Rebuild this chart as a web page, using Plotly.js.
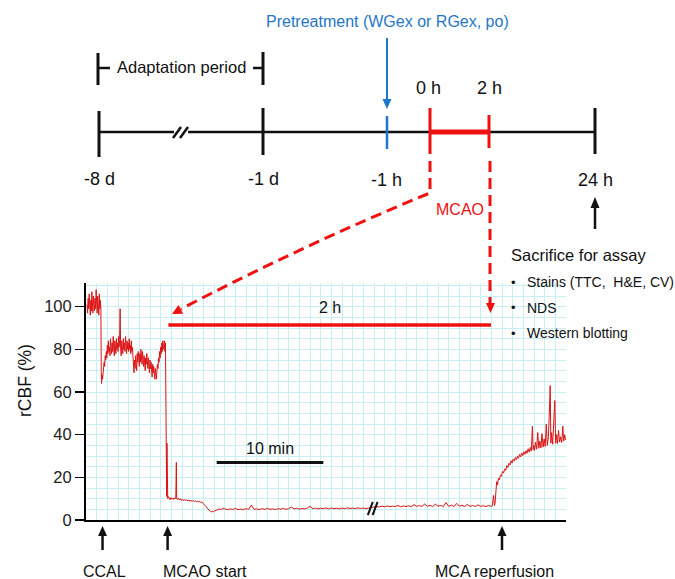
<!DOCTYPE html>
<html><head><meta charset="utf-8">
<script src="https://cdn.plot.ly/plotly-3.0.1.min.js"></script>
<style>html,body{margin:0;padding:0;background:#fff}</style>
</head><body><div id="chart" style="width:675px;height:579px"></div>
<script>
// ---------- DATA (rCBF %, time in display-minutes from trace start) ----------
const baselineTime = [0.10,0.15,0.20,0.25,0.30,0.35,0.40,0.45,0.50,0.55,0.60,0.65,0.70,0.75,0.80,0.85,0.90,0.95,1.00,1.05,1.10,1.15,1.20,1.25,1.30,1.35];
const baselineCBF  = [101,97,104,99,106,100,96,103,98,107,101,97,105,100,98,104,99,108,102,97,105,100,96,106,99,103];

const ccalTime = [1.40,1.43,1.46,1.50,1.55,1.60,1.65,1.70,1.75,1.80,1.85,1.90,1.95,2.00,2.05,2.10,2.15,2.20,2.25,2.30,
  2.35,2.40,2.45,2.50,2.55,2.60,2.65,2.70,2.75,2.80,2.85,2.90,2.95,3.00,3.05,3.10,3.15,3.20,3.25,3.30,
  3.35,3.40,3.45,3.50,3.55,3.60,3.65,3.70,3.75,3.80,3.85,3.90,3.95,4.00,4.05,4.10,4.15,4.20,4.25,4.30,
  4.35,4.40,4.45,4.50,4.55,4.60,4.65,4.70,4.75,4.80,4.85,4.90,4.95,5.00,5.05,5.10,5.15,5.20,5.25,5.30,
  5.35,5.40,5.45,5.50,5.55,5.60,5.65,5.70,5.75,5.80,5.85,5.90,5.95,6.00,6.05,6.10,6.15,6.20,6.25,6.30,
  6.35,6.40,6.45,6.50,6.55,6.60,6.65,6.70,6.75,6.80,6.85,6.90,6.95,7.00,7.05,7.10,7.15,7.20,7.25,7.30,
  7.35,7.40,7.45];
const ccalCBF = [98,70,64,68,66,71,69,74,72,77,75,79,76,82,78,84,79,81,77,85,
  80,78,83,79,86,80,77,84,81,78,85,80,83,79,86,81,84,99,80,77,
  84,81,78,85,80,83,79,86,81,78,84,80,83,79,85,80,82,78,84,79,
  81,77,72,69,75,71,77,73,70,78,74,79,75,72,78,74,80,76,73,79,
  75,72,77,74,70,76,73,78,74,71,76,72,69,75,71,74,70,67,73,69,
  72,68,66,71,68,66,70,73,71,76,74,79,76,81,78,83,79,84,81,80,
  84,79,83];

const occlusionTime = [7.50,7.53,7.56,7.59,7.62,7.66,7.72,7.80,7.88,7.95,8.02,8.10,8.18,8.26,8.34,8.42,8.47,8.50,8.58,8.66,
  8.75,8.85,8.95,9.05,9.15,9.25,9.35,9.45,9.55,9.65,9.75,9.85,9.95,10.05,10.15,10.25,10.35,10.45,10.55,10.65,
  10.75,10.85,10.95,11.05,11.15,11.25,11.35,11.45,11.55,11.65,11.75,11.85,11.95,12.05,12.20,12.35,12.50,12.65,12.80,
  13.00,13.25,13.50,13.75,14.00,14.25,14.50,14.75,15.00,15.25,
  15.50,15.75,16.00,16.25,16.50,16.75,17.00,17.25,17.50,17.75,
  18.00,18.25,18.50,18.75,19.00,19.25,19.50,19.75,20.00,20.25,
  20.50,20.75,21.00,21.25,21.50,21.75,22.00,22.25,22.50,22.75,
  23.00,23.25,23.50,23.75,24.00,24.25,24.50,24.75,25.00,25.25,
  25.50,25.75,26.00,26.25,26.50,26.75,
  27.00,27.25,27.50,27.75,28.00,28.25,28.50,28.75,29.00,29.25,
  29.50,29.75,30.00,30.25,30.50,30.75,31.00,31.25,31.50,31.75,
  32.00,32.25,32.50,32.75,33.00,33.25,33.50,33.75,34.00,34.25,
  34.50,34.75,35.00,35.25,35.50,35.75,36.00,36.25,36.50,36.75,
  37.00,37.25,37.50,37.75,38.00,38.10,38.20,38.25,38.30];
const occlusionCBF = [60,14,11,36,12,10,11,10,9.5,10.5,9.8,10.2,9.6,10.4,9.9,10.1,27,10,9.6,10.3,
  9.4,10.0,9.2,9.8,9.1,9.6,9.0,9.5,8.9,9.4,8.8,9.3,8.7,9.2,8.6,9.0,8.5,8.9,8.4,8.8,
  8.2,8.5,8.0,7.6,7.0,6.3,5.6,5.0,4.5,4.1,3.9,3.8,3.9,4.2,4.6,4.9,5.2,4.9,5.3,
  5.3,4.8,5.2,4.9,5.4,4.9,5.1,4.8,5.3,5.0,
  7.0,5.0,5.2,4.9,5.3,5.0,5.4,5.0,5.2,4.9,
  5.3,5.1,5.4,5.0,5.3,6.1,5.2,5.5,5.1,5.4,
  5.2,5.6,6.4,5.3,5.6,5.2,5.5,5.3,5.7,5.2,
  5.6,5.3,5.5,5.2,5.6,5.3,5.7,5.4,5.6,5.3,
  5.7,5.4,5.6,5.3,5.6,5.8,
  6.0,6.3,6.1,6.5,6.2,6.6,6.2,6.5,6.3,6.8,
  6.2,6.6,6.3,6.7,6.2,7.2,6.4,6.8,6.3,7.6,
  6.4,6.9,6.3,7.4,6.5,6.8,6.3,8.2,6.4,7.0,
  6.3,7.8,6.5,6.9,6.3,7.3,6.4,6.8,6.3,7.1,
  6.4,6.7,6.3,6.8,6.4,6.6,11.5,7.0,6.8];

const reperfusionTime = [38.35,38.42,38.50,38.58,38.66,38.75,38.85,38.95,39.05,39.15,39.25,39.35,39.45,39.55,39.65,39.75,39.85,39.95,40.05,40.15,
  40.25,40.35,40.45,40.55,40.65,40.75,40.85,40.95,41.05,41.15,41.25,41.35,41.45,41.55,41.65,41.75,41.85,41.92,41.98,42.05,
  42.15,42.25,42.35,42.45,42.55,42.65,42.75,42.85,42.95,43.05,43.15,43.25,43.35,43.45,43.52,43.58,43.65,43.75,43.85,43.95,
  44.03,44.12,44.20,44.30,44.40,44.50,44.60,44.70,44.78,44.88,44.95];
const reperfusionCBF = [8,14,18,16.5,19.5,18.8,21,20.5,22.8,22,24,23.3,25.5,24.6,26.6,25.8,27.8,26.7,28.5,27.6,
  29.3,28.2,30,28.9,30.8,29.6,31.4,30.2,32,30.8,32.5,31.3,33.4,31.8,34,32.3,44,33,35,32.6,
  36.5,33.2,41,33.6,37,33.8,40.5,34.2,38,34.5,45,35,39,52,63,36,41,35.5,47,56,
  36,40,35.8,42,36.5,39,36.3,44,37,40,37.5];

const yTickVals = [0, 20, 40, 60, 80, 100];
const eventTimes  = [1.55, 7.65, 39.0];
const eventLabels = ['CCAL', 'MCAO start', 'MCA reperfusion'];
const occlusionSpan = [7.72, 37.97];      // 2 h marker line (min)
const occlusionSpanLevel = 91.4;          // rCBF level of the 2 h marker
const scaleBarStart = 12.25, scaleBarMinutes = 10, scaleBarLevel = 26.9;
const axisBreakTime = 26.9;
const timelineLabels = ['-8 d', '-1 d', '-1 h', '0 h', '2 h', '24 h'];
const assayItems = ['Stains (TTC,\u00a0 H&E, CV)', 'NDS', 'Western blotting'];

// ---------- LAYOUT GEOMETRY ----------
const W = 675, H = 579;
const PL = 86, PR = 566, PT = 283, PB = 520;
const XMAX = 45, YMAX = 111.1;
const pxPerMin = (PR - PL) / XMAX;
const GRID = '#c8eff5';
const RED = '#f01010', BLUE = '#1f77c8', BLACK = '#111';
const FONT = 'Liberation Sans, Arial, sans-serif';

const px = x => x / W, py = y => 1 - y / H;
const shapes = [], annotations = [];

function seg(x0, y0, x1, y1, color, width, dash) {
  shapes.push({type:'line', xref:'paper', yref:'paper', x0:px(x0), y0:py(y0), x1:px(x1), y1:py(y1),
    line:{color:color, width:width, dash:dash || 'solid'}});
}
function tri(pts, color) {
  const d = pts.map((p, i) => (i ? 'L' : 'M') + px(p[0]) + ',' + py(p[1])).join(' ') + ' Z';
  shapes.push({type:'path', xref:'paper', yref:'paper', path:d, fillcolor:color, line:{width:0}});
}
function txt(x, y, text, size, color, anchor, extra) {
  annotations.push(Object.assign({xref:'paper', yref:'paper', x:px(x), y:py(y), text:text, showarrow:false,
    xanchor:anchor || 'center', yanchor:'middle', font:{family:FONT, size:size, color:color || BLACK}}, extra || {}));
}

// ---------- TIMELINE (schematic) ----------
seg(99, 132, 595, 132, BLACK, 2.5);
seg(99, 111, 99, 157, BLACK, 3);
seg(263, 108, 263, 155, BLACK, 3);
seg(595, 108, 595, 154, BLACK, 3);
seg(387, 116, 387, 149, BLUE, 2.5);
seg(430, 132, 489, 132, RED, 5);
seg(430, 108, 430, 154, RED, 3);
seg(489, 115, 489, 148, RED, 3);
// break mark
shapes.push({type:'rect', xref:'paper', yref:'paper', x0:px(174), x1:px(188), y0:py(134), y1:py(130), fillcolor:'#fff', line:{width:0}});
seg(173, 138, 181, 127, BLACK, 2.5);
seg(180, 138, 188, 127, BLACK, 2.5);
// adaptation bracket
seg(98, 53, 98, 85, BLACK, 3);
seg(98, 68, 110, 68, BLACK, 2.5);
seg(263, 52, 263, 85, BLACK, 3);
seg(253, 68, 263, 68, BLACK, 2.5);
txt(182, 67, 'Adaptation period', 16.5);
// pretreatment arrow
seg(387, 38, 387, 100, BLUE, 2);
tri([[387, 109], [382.5, 99], [391.5, 99]], BLUE);
txt(387, 21, 'Pretreatment (WGex or RGex, po)', 16, BLUE);
// timeline labels
const tlPos = [[99.5, 179], [263, 179], [386, 180.5], [428.5, 88], [489, 88], [595, 180.5]];
timelineLabels.forEach((t, i) => txt(tlPos[i][0], tlPos[i][1], t, 18));
txt(460, 210, 'MCAO', 16, RED);
// 24 h arrow + assay list
seg(595, 229, 595, 206, BLACK, 2.5);
tri([[595, 197], [590.5, 208], [599.5, 208]], BLACK);
txt(509, 255, 'Sacrifice for assay', 16.5, BLACK, 'left');
const assayY = [282, 307.5, 333];
assayItems.forEach((t, i) => {
  txt(513, assayY[i], '•', 13, BLACK);
  txt(525, assayY[i], t, 14, BLACK, 'left');
});
// dashed connectors
const ctl = [305.5, 244];
shapes.push({type:'path', xref:'paper', yref:'paper',
  path:'M' + px(430) + ',' + py(161) + ' L' + px(430) + ',' + py(193) + ' Q' + px(ctl[0]) + ',' + py(ctl[1]) + ' ' + px(181) + ',' + py(309),
  line:{color:RED, width:3, dash:'11px,6px'}});
tri([[172, 314], [183.1, 313.7], [178.5, 304.9]], RED);
seg(490, 161, 490, 303, RED, 3, '11px,6px');
tri([[490.5, 313], [486, 303], [495, 303]], RED);

// ---------- PLOT DECORATIONS (data coords) ----------
shapes.push({type:'line', xref:'x', yref:'y', x0:occlusionSpan[0], x1:occlusionSpan[1], y0:occlusionSpanLevel, y1:occlusionSpanLevel,
  line:{color:RED, width:3.5}});
annotations.push({xref:'x', yref:'y', x:(occlusionSpan[0] + occlusionSpan[1]) / 2, y:99.4, text:'2 h', showarrow:false,
  font:{family:FONT, size:16, color:BLACK}});
shapes.push({type:'line', xref:'x', yref:'y', x0:scaleBarStart, x1:scaleBarStart + scaleBarMinutes, y0:scaleBarLevel, y1:scaleBarLevel,
  line:{color:BLACK, width:3}});
annotations.push({xref:'x', yref:'y', x:scaleBarStart + scaleBarMinutes / 2, y:33.3, text:'10 min', showarrow:false,
  font:{family:FONT, size:16, color:BLACK}});
// axis break on trace
const bw = 5 / pxPerMin;
[[-0.45, 0], [0, 0.45]].forEach(o => {
  shapes.push({type:'line', xref:'x', yref:'y', x0:axisBreakTime + o[0] - 0.03, x1:axisBreakTime + o[0] + bw - 0.03, y0:2.3, y1:8.5,
    line:{color:BLACK, width:2}});
});
// event arrows below the axis
const hw = 4.5 / pxPerMin;
const labelX = [104, 205, 495];
eventTimes.forEach((t, i) => {
  shapes.push({type:'line', xref:'x', yref:'paper', x0:t, x1:t, y0:py(550), y1:py(534), line:{color:BLACK, width:2.5}});
  shapes.push({type:'path', xref:'x', yref:'paper', path:'M' + t + ',' + py(526) + ' L' + (t - hw) + ',' + py(536) + ' L' + (t + hw) + ',' + py(536) + ' Z',
    fillcolor:BLACK, line:{width:0}});
  txt(labelX[i], 571.5, eventLabels[i], 16);
});
txt(25, 381, 'rCBF (%)', 17.5, BLACK, 'center', {textangle:-90});

// ---------- TRACE ----------
const trace = {
  type:'scatter', mode:'lines',
  x:[].concat(baselineTime, ccalTime, occlusionTime, reperfusionTime),
  y:[].concat(baselineCBF, ccalCBF, occlusionCBF, reperfusionCBF),
  line:{color:'#dc1414', width:1}, hoverinfo:'skip'
};

const layout = {
  width:W, height:H, margin:{l:0, r:0, t:0, b:0, pad:0},
  paper_bgcolor:'#fff', plot_bgcolor:'#fff', showlegend:false,
  font:{family:FONT, color:BLACK},
  xaxis:{domain:[PL / W, PR / W], range:[0, XMAX], showline:true, linecolor:'#000', linewidth:2,
    showticklabels:false, ticks:'', tickmode:'linear', tick0:0, dtick:1, showgrid:true, gridcolor:GRID, gridwidth:1,
    zeroline:false, fixedrange:true, automargin:false},
  yaxis:{domain:[1 - PB / H, 1 - PT / H], range:[0, YMAX], showline:true, linecolor:'#000', linewidth:2,
    tickmode:'array', tickvals:yTickVals, ticks:'outside', ticklen:9, tickwidth:1.5, tickcolor:'#000',
    tickfont:{family:FONT, size:16.5, color:'#222'}, showgrid:true, gridcolor:GRID, gridwidth:1,
    minor:{tickmode:'linear', tick0:0, dtick:5, showgrid:true, gridcolor:GRID, gridwidth:1, ticks:''},
    zeroline:false, fixedrange:true, automargin:false},
  shapes:shapes, annotations:annotations
};

Plotly.newPlot('chart', [trace], layout, {staticPlot:true, displayModeBar:false});
</script></body></html>
